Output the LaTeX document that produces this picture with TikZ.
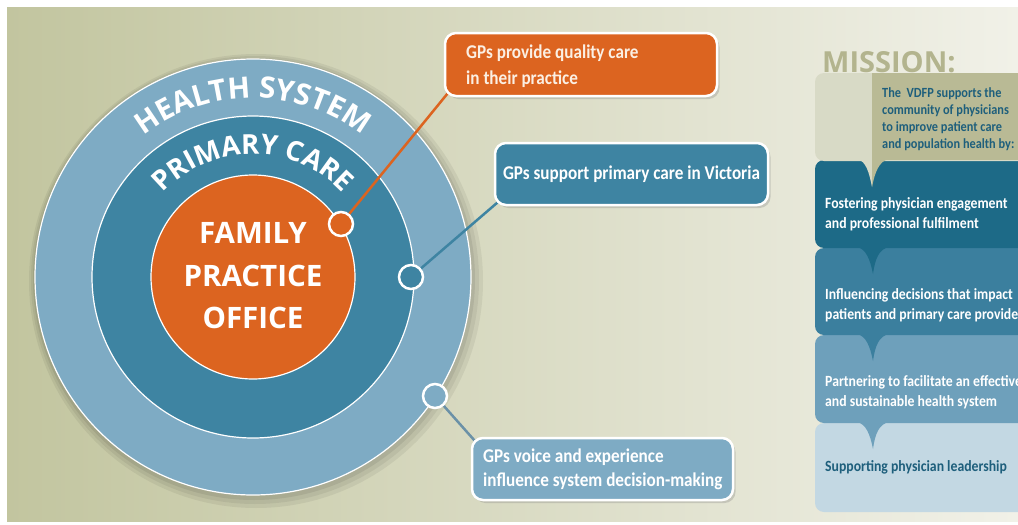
\documentclass[tikz,border=0pt]{standalone}
\usepackage{fontspec}
\setmainfont{Open Sans}
\newfontfamily\condf{Carlito}[FakeStretch=0.88]
\usetikzlibrary{shadows,decorations.text,calc}
\definecolor{bgL}{HTML}{C2C59F}
\definecolor{bgR}{HTML}{F1F1E8}
\definecolor{ringO}{HTML}{7EABC4}
\definecolor{ringM}{HTML}{3E84A2}
\definecolor{coreO}{HTML}{DC6420}
\definecolor{mission}{HTML}{B3B48E}
\definecolor{topgray}{HTML}{D8DAC6}
\definecolor{topkhaki}{HTML}{B9BA95}
\definecolor{pA}{HTML}{1D6A87}
\definecolor{pB}{HTML}{3B7F9E}
\definecolor{pC}{HTML}{6EA0BB}
\definecolor{pD}{HTML}{C3D8E3}
\definecolor{darkteal}{HTML}{1E5F7C}
\definecolor{cream}{HTML}{FBEFE3}
\pgfdeclarelayer{back}
\pgfdeclarelayer{lines}
\pgfsetlayers{back,lines,main}
\tikzset{
  callbox/.style={draw=white, line width=2.5pt, rounded corners=11pt,
    drop shadow={opacity=0.3, shadow xshift=2.5pt, shadow yshift=-3pt},
    text=white, inner sep=0pt},
  calltext/.style={font=\condf\bfseries\fontsize{19.5}{22}\selectfont, inner sep=0pt},
  dot/.style={circle, draw=white, line width=2.5pt, minimum size=24pt, inner sep=0pt},
  link/.style={line width=2.5pt},
  ctext/.style={text=white, font=\bfseries\fontsize{29.5}{29.5}\selectfont, inner sep=0pt},
  ptext/.style={font=\condf\bfseries\fontsize{15.6}{20}\selectfont, inner sep=0pt, anchor=base west},
  ttext/.style={font=\condf\bfseries\fontsize{14}{17}\selectfont, inner sep=0pt, anchor=base west, text=darkteal},
}
\begin{document}
\begin{tikzpicture}[x=1pt,y=-1pt]
\useasboundingbox (0,0) rectangle (1018,525);
\begin{pgfonlayer}{back}
\fill[white] (0,0) rectangle (1018,525);
\shade[left color=bgL, right color=bgR] (7,7) rectangle (1018,521);
% ring shadow
\fill[black, opacity=0.06] (256,281) circle[radius=227];
\fill[black, opacity=0.06] (255,280) circle[radius=224];
\fill[black, opacity=0.07] (254,279) circle[radius=221];
% rings
\filldraw[fill=ringO, draw=white, line width=1.2pt] (253,277) circle[radius=218];
\filldraw[fill=ringM, draw=white, line width=1.2pt] (253,277) circle[radius=161];
\filldraw[fill=coreO, draw=white, line width=1.2pt] (253,277) circle[radius=102];
% curved labels
\path[decorate, decoration={text along path, text align=center,
   text={|\color{white}\bfseries\fontsize{29.5}{29.5}\selectfont|HEALTH SYSTEM}}]
   (253,277) ++(-160:179) arc[start angle=-160, end angle=-20, radius=179];
\path[decorate, decoration={text along path, text align=center,
   text={|\color{white}\bfseries\fontsize{27.5}{27.5}\selectfont|PRIMARY CARE}}]
   (253,277) ++(-165:123) arc[start angle=-165, end angle=-15, radius=123];
\end{pgfonlayer}

\node[ctext, anchor=base] (fam) at (253,243) {FAMILY};
\node[ctext, anchor=base] (prac) at (253,286) {PRACTICE};
\node[ctext, anchor=base] (off) at (253,328) {OFFICE};

% callouts
\node[callbox, fill=coreO, minimum width=272pt, minimum height=63pt] (b1) at (581,64.5) {};
\node[calltext, text=cream, anchor=base west] (b1a) at (466,58) {GPs provide quality care};
\node[calltext, text=cream, anchor=base west] (b1b) at (466,84) {in their practice};
\node[callbox, fill=ringM, minimum width=273pt, minimum height=62pt, calltext] (b2) at (631.5,174)
  {GPs support primary care in Victoria};
\node[callbox, fill=ringO, minimum width=261pt, minimum height=62pt] (b3) at (602.5,469) {};
\node[calltext, text=white, anchor=base west] (b3a) at (483,462) {GPs voice and experience};
\node[calltext, text=white, anchor=base west] (b3b) at (483,486) {influence system decision-making};

% dots
\node[dot, fill=coreO] (d1) at (341,224) {};
\node[dot, fill=ringM] (d2) at (411,277) {};
\node[dot, fill=ringO] (d3) at (435,396) {};

\begin{pgfonlayer}{lines}
\draw[link, coreO] (d1.center) -- ($(b1.south west)+(4,-4)$);
\draw[link, ringM] (d2.center) -- ($(b2.south west)+(4,-4)$);
\draw[link, color=ringO!85!black] (d3.center) -- ($(b3.north west)+(4,4)$);
\end{pgfonlayer}

% mission panel
\node[font=\bfseries\fontsize{29}{29}\selectfont, text=mission, anchor=base west, inner sep=0pt]
  (mis) at (822,72) {MISSION:};
\begin{scope}
\clip (0,0) rectangle (1018,525);
\fill[pD, rounded corners=9pt] (815,423) rectangle (1040,512);
\fill[pC, rounded corners=9pt] (815,335) rectangle (1040,423);
\fill[pC] (857,422) .. controls (866,424) and (870,434) .. (873,449) .. controls (875,434) and (879,424) .. (889,422) -- cycle;
\fill[pB, rounded corners=9pt] (815,248) rectangle (1040,335);
\fill[pB] (857,334) .. controls (866,336) and (870,346) .. (873,361) .. controls (875,346) and (879,336) .. (889,334) -- cycle;
\fill[pA, rounded corners=9pt] (815,160) rectangle (1040,248);
\fill[pA] (857,247) .. controls (866,249) and (870,259) .. (873,274) .. controls (875,259) and (879,249) .. (889,247) -- cycle;
\fill[topgray, rounded corners=9pt] (815,73) rectangle (1040,161);
\fill[topkhaki] (872,73) rectangle (1040,160);
\fill[topgray] (857,159) .. controls (866,161) and (869,172) .. (872,187) -- (872,159) -- cycle;
\fill[topkhaki] (872,187) .. controls (875,172) and (879,161) .. (889,159) -- (872,159) -- cycle;

\node[ttext] (t1) at (882,97) {The\ \ VDFP supports the};
\node[ttext] (t2) at (882,114) {community of physicians};
\node[ttext] (t3) at (882,131) {to improve patient care};
\node[ttext] (t4) at (882,148) {and population health by:};

\node[ptext, text=white] (a1) at (825,208) {Fostering physician engagement};
\node[ptext, text=white] (a2) at (825,228) {and professional fulfilment};
\node[ptext, text=white] (c1) at (825,299) {Influencing decisions that impact};
\node[ptext, text=white] (c2) at (825,319) {patients and primary care providers};
\node[ptext, text=white] (e1) at (825,386) {Partnering to facilitate an effective};
\node[ptext, text=white] (e2) at (825,406) {and sustainable health system};
\node[ptext, text=darkteal] (g1) at (825,471) {Supporting physician leadership};
\end{scope}
\end{tikzpicture}
\end{document}
